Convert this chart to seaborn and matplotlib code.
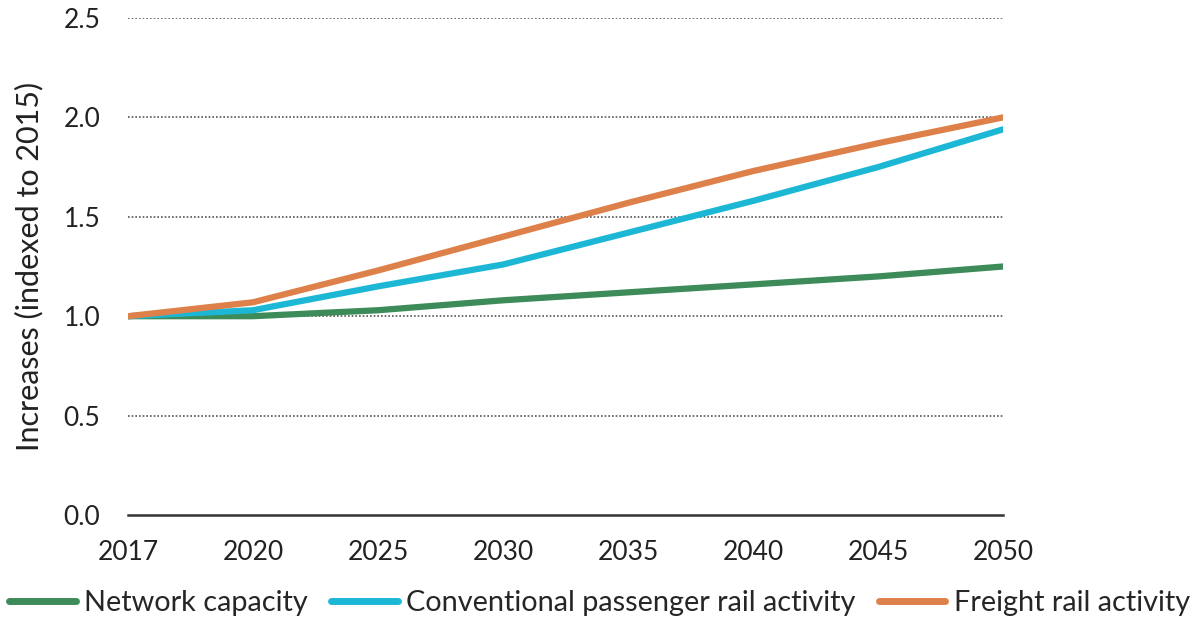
import matplotlib
matplotlib.use("Agg")
import matplotlib.pyplot as plt
import seaborn as sns
import pandas as pd
import numpy as np

years = ["2017", "2020", "2025", "2030", "2035", "2040", "2045", "2050"]
network_capacity = [1.00, 1.00, 1.03, 1.08, 1.12, 1.16, 1.20, 1.25]
passenger_rail = [1.00, 1.03, 1.15, 1.26, 1.42, 1.58, 1.75, 1.94]
freight_rail = [1.00, 1.07, 1.23, 1.40, 1.57, 1.73, 1.87, 2.00]
series_names = ["Network capacity", "Conventional passenger rail activity", "Freight rail activity"]
colors = ["#3d8b58", "#1db7d6", "#de8049"]
y_ticks = [0.0, 0.5, 1.0, 1.5, 2.0, 2.5]
y_label = "Increases (indexed to 2015)"

sns.set_theme(style="white")
plt.rcParams["font.family"] = ["Lato", "DejaVu Sans"]

frames = []
for name, vals in zip(series_names, [network_capacity, passenger_rail, freight_rail]):
    frames.append(pd.DataFrame({"pos": np.arange(len(years)), "value": vals, "series": name}))
df = pd.concat(frames, ignore_index=True)

fig = plt.figure(figsize=(11.99, 6.20), dpi=100)
ax = fig.add_axes([128 / 1199, 1 - 515 / 620, (1003 - 128) / 1199, (515 - 18) / 620])

# dotted horizontal gridlines above zero
for yv in y_ticks[1:]:
    ax.axhline(yv, color="#555555", linestyle=(0, (1, 1.2)), linewidth=1.2, zorder=1)

sns.lineplot(data=df, x="pos", y="value", hue="series", palette=dict(zip(series_names, colors)),
             linewidth=4.5, ax=ax, legend=False, zorder=3)

ax.set_xlim(0, len(years) - 1)
ax.set_ylim(0, 2.5)
ax.set_xticks(np.arange(len(years)))
ax.set_xticklabels(years, fontsize=19)
ax.set_yticks(y_ticks)
ax.set_yticklabels([f"{v:.1f}" for v in y_ticks], fontsize=19)
ax.tick_params(axis="both", length=0, colors="#222222")
ax.tick_params(axis="x", pad=18)
ax.tick_params(axis="y", pad=20)
ax.set_xlabel("")
ax.set_ylabel(y_label, fontsize=22, color="#222222", labelpad=14)

for side in ["top", "right", "left"]:
    ax.spines[side].set_visible(False)
ax.spines["bottom"].set_color("#333333")
ax.spines["bottom"].set_linewidth(1.8)

handles = [plt.Line2D([0], [0], color=c, linewidth=5) for c in colors]
fig.legend(handles, series_names, loc="lower center", bbox_to_anchor=(0.5, -0.035), ncol=3,
           frameon=False, fontsize=20.8, handlelength=2.3, handletextpad=0.3, columnspacing=0.8)

fig.savefig("out.png", dpi=100)
